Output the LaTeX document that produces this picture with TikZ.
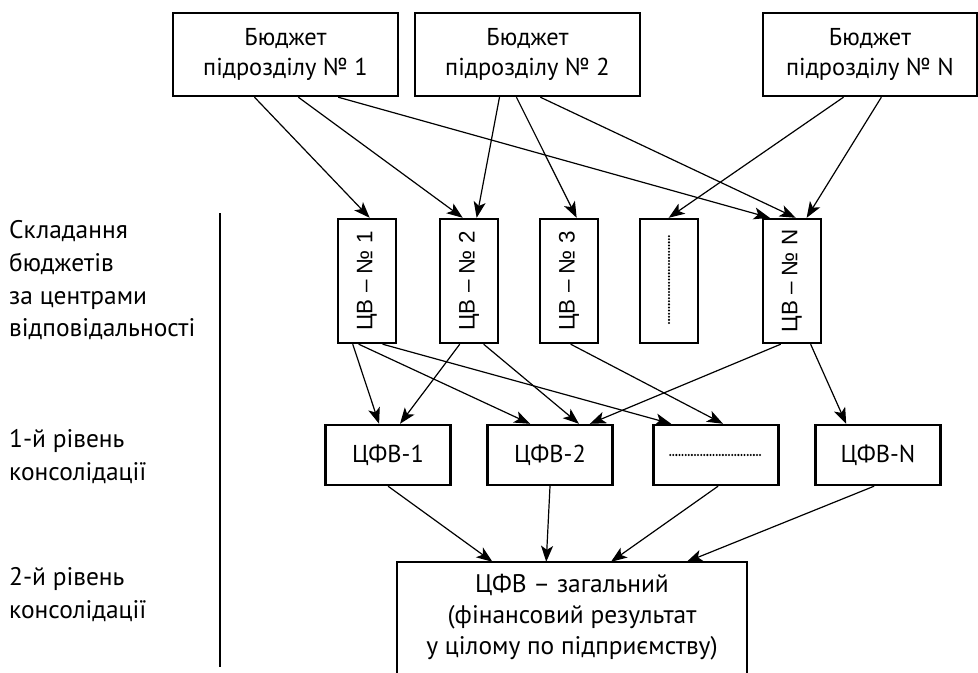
\documentclass[tikz,border=0pt]{standalone}
\usepackage{fontspec}
\setmainfont{PT Sans}
\newfontfamily\rotfont{Liberation Sans}
\usetikzlibrary{arrows.meta}
\begin{document}
\begin{tikzpicture}[x=1bp,y=-1bp,
  box/.style={draw, line width=2.4bp, inner sep=0pt, align=center, font=\fontsize{24.5}{31}\selectfont},
  topbox/.style={box, minimum width=225bp, minimum height=83bp},
  cvbox/.style={box, minimum width=58bp, minimum height=124bp, font=\rotfont\fontsize{22.5}{25}\selectfont},
  cfbox/.style={box, minimum width=125bp, minimum height=60bp},
  arr/.style={line width=1.2bp, -{Stealth[length=16bp,width=12bp,inset=4bp]}},
  side/.style={anchor=north west, align=left, inner sep=0pt, font=\fontsize{25.5}{33}\selectfont},
  dots/.style={line width=2.3bp, line cap=round, dash pattern=on 0bp off 3.1bp},
  bar/.style={line width=2bp}
]
\useasboundingbox (0,0) rectangle (978,673);

% top budgets
\node[topbox] (b1) at (285.5,54.5) {Бюджет\\підрозділу № 1};
\node[topbox] (b2) at (527.5,54.5) {Бюджет\\підрозділу № 2};
\node[topbox, minimum width=214bp] (b3) at (870,54.5) {Бюджет\\підрозділу № N};

% responsibility centres
\node[cvbox] (c1) at (367,281) {\rotatebox{90}{ЦВ – № 1}};
\node[cvbox] (c2) at (469,281) {\rotatebox{90}{ЦВ – № 2}};
\node[cvbox] (c3) at (569,281) {\rotatebox{90}{ЦВ – № 3}};
\node[cvbox] (cd) at (669,281) {};
\node[cvbox] (cn) at (792,281) {\rotatebox{90}{ЦВ – № N}};
\draw[dots] ([yshift=45]cd.center) -- ([yshift=-45]cd.center);

% first level consolidation
\node[cfbox] (f1) at (388,455) {ЦФВ-1};
\node[cfbox] (f2) at (550,455) {ЦФВ-2};
\node[cfbox] (fd) at (716,455) {};
\node[cfbox] (fn) at (878,455) {ЦФВ-N};
\draw[dots] ([xshift=-46]fd.center) -- ([xshift=46]fd.center);

% total
\node[align=center, inner sep=0pt, minimum width=350bp, minimum height=110bp,
      font=\fontsize{25.5}{31}\selectfont] (tot) at (572,617)
  {ЦФВ – загальний\\(фінансовий результат\\у цілому по підприємству)};
\draw[line width=2.4bp] ([yshift=-15]tot.south west) -- (tot.north west) -- (tot.north east) -- ([yshift=-15]tot.south east);

% side labels
\node[side] (s1) at (9,220) {Складання\\бюджетів\\за центрами\\відповідальності};
\node[side] (s2) at (9,429) {1-й рівень\\консолідації};
\node[side] (s3) at (9,567) {2-й рівень\\консолідації};
\coordinate (vt) at (220,213);
\coordinate (vb) at (220,667);
\draw[bar] (vt) -- (vb);

% top -> centres
\draw[arr] ([xshift=83]b1.south west) -- ([xshift=33]c1.north west);
\draw[arr] ([xshift=127]b1.south west) -- ([xshift=24]c2.north west);
\draw[arr] ([xshift=167]b1.south west) -- ([xshift=8]cn.north west);
\draw[arr] ([xshift=86]b2.south west) -- ([xshift=38]c2.north west);
\draw[arr] ([xshift=103]b2.south west) -- ([xshift=38]c3.north west);
\draw[arr] ([xshift=127]b2.south west) -- ([xshift=34]cn.north west);
\draw[arr] ([xshift=82]b3.south west) -- ([xshift=30]cd.north west);
\draw[arr] ([xshift=120]b3.south west) -- ([xshift=45]cn.north west);

% centres -> first level
\draw[arr] ([xshift=16]c1.south west) -- ([xshift=55]f1.north west);
\draw[arr] ([xshift=22]c1.south west) -- ([xshift=44]f2.north west);
\draw[arr] ([xshift=46]c1.south west) -- ([xshift=19]fd.north west);
\draw[arr] ([xshift=21]c2.south west) -- ([xshift=76]f1.north west);
\draw[arr] ([xshift=45]c2.south west) -- ([xshift=93]f2.north west);
\draw[arr] ([xshift=32]c3.south west) -- ([xshift=71]fd.north west);
\draw[arr] ([xshift=19]cn.south west) -- ([xshift=104]f2.north west);
\draw[arr] ([xshift=49]cn.south west) -- ([xshift=32]fn.north west);

% first level -> total
\draw[arr] ([xshift=64]f1.south west) -- ([xshift=96]tot.north west);
\draw[arr] (f2.south) -- ([xshift=150]tot.north west);
\draw[arr] ([xshift=66]fd.south west) -- ([xshift=215]tot.north west);
\draw[arr] ([xshift=60]fn.south west) -- ([xshift=291]tot.north west);
\end{tikzpicture}
\end{document}
